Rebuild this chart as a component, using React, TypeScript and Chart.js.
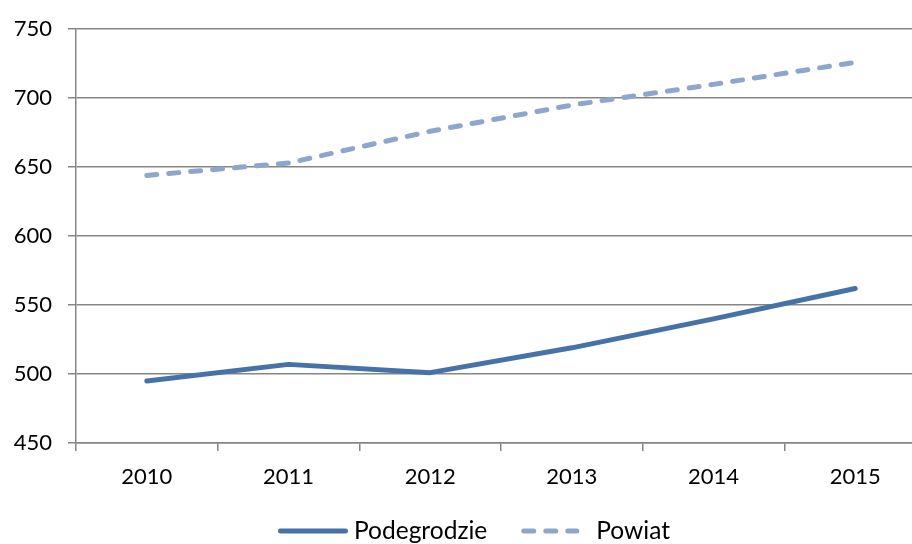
import React, { useEffect, useRef } from "react";
import { Chart, registerables } from "chart.js";

Chart.register(...registerables);

const categories = ["2010", "2011", "2012", "2013", "2014", "2015"];
const podegrodzie = [495, 507, 501, 519, 540, 562];
const powiat = [644, 653, 676, 695, 710, 726];
const yMin = 450;
const yMax = 750;
const yStep = 50;

const legendPlugin = {
  id: "customLegend",
  afterDraw(chart: any) {
    const ctx = chart.ctx as CanvasRenderingContext2D;
    const ds = chart.data.datasets;
    const lineLens = [70, 58];
    const textGaps = [6, 17];
    const itemGap = 34;
    const y = 531;
    ctx.save();
    ctx.font = "24.5px Lato";
    ctx.textBaseline = "middle";
    ctx.textAlign = "left";
    const widths = ds.map(
      (d: any, i: number) => lineLens[i] + textGaps[i] + ctx.measureText(d.label).width
    );
    const total = widths.reduce((a: number, b: number) => a + b, 0) + itemGap * (ds.length - 1);
    let x = chart.width / 2 + 9 - total / 2;
    ds.forEach((d: any, i: number) => {
      ctx.beginPath();
      ctx.strokeStyle = d.borderColor;
      ctx.lineWidth = d.borderWidth;
      ctx.lineCap = "round";
      ctx.setLineDash(d.borderDash || []);
      ctx.moveTo(x + 2.5, y);
      ctx.lineTo(x + lineLens[i] - 2.5, y);
      ctx.stroke();
      ctx.setLineDash([]);
      ctx.fillStyle = "#000";
      ctx.fillText(d.label, x + lineLens[i] + textGaps[i], y);
      x += widths[i] + itemGap;
    });
    ctx.restore();
  },
};

export default function App() {
  const ref = useRef<HTMLCanvasElement | null>(null);
  useEffect(() => {
    if (!ref.current) return;
    const font = { family: "Lato", size: 22 };
    const chart = new Chart(ref.current, {
      type: "line",
      data: {
        labels: categories,
        datasets: [
          {
            label: "Podegrodzie",
            data: podegrodzie,
            borderColor: "#4672AA",
            backgroundColor: "#4672AA",
            borderWidth: 5,
            borderCapStyle: "round",
            borderJoinStyle: "round",
            pointRadius: 0,
            tension: 0,
          },
          {
            label: "Powiat",
            data: powiat,
            borderColor: "#8EA6CE",
            backgroundColor: "#8EA6CE",
            borderWidth: 5,
            borderDash: [10, 12],
            borderCapStyle: "round",
            borderJoinStyle: "round",
            pointRadius: 0,
            tension: 0,
          },
        ],
      },
      options: {
        animation: false,
        responsive: false,
        layout: { padding: { left: 0, top: 29, right: 4, bottom: 62 } },
        plugins: {
          tooltip: { enabled: false },
          legend: { display: false },
        },
        scales: {
          x: {
            offset: true,
            grid: {
              offset: true,
              drawOnChartArea: false,
              tickLength: 8,
              color: "#868686",
              lineWidth: 1.5,
            },
            border: { color: "#868686", width: 1.5 },
            ticks: { color: "#000", font, padding: 13 },
            afterFit: (s: any) => {
              s.height = 47;
            },
          },
          y: {
            min: yMin,
            max: yMax,
            ticks: { stepSize: yStep, color: "#000", font, padding: 16 },
            grid: { tickLength: 8, color: "#868686", lineWidth: 1.5 },
            border: { color: "#868686", width: 1.5 },
            afterFit: (s: any) => {
              s.width = 76;
            },
          },
        },
      },
      plugins: [legendPlugin],
    });
    return () => chart.destroy();
  }, []);
  return (
    <div
      style={{
        position: "fixed",
        left: 0,
        top: 0,
        width: 912,
        height: 544,
        overflow: "hidden",
        background: "#fff",
      }}
    >
      <canvas ref={ref} width={930} height={552} style={{ display: "block" }} />
    </div>
  );
}
